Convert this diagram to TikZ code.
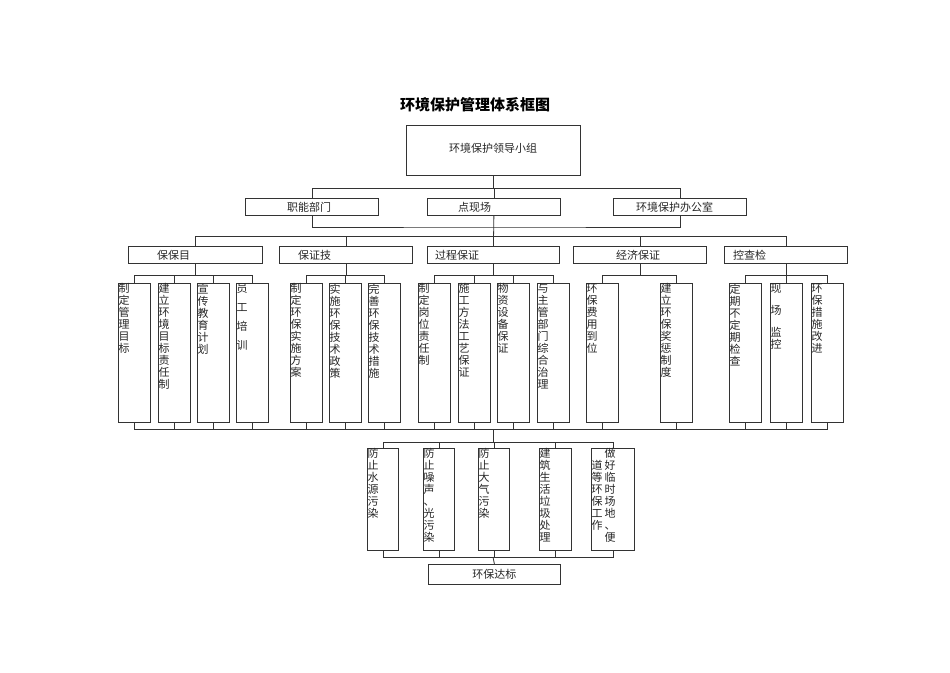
\documentclass[tikz,border=0pt]{standalone}
\usepackage{fontspec}
\setmainfont{Noto Sans CJK SC}
\usetikzlibrary{positioning}
\tikzset{
  figline/.style={draw=black!80, line width=0.8pt},
  topbox/.style={figline, minimum width=174pt, minimum height=50pt, inner sep=0pt,
    font=\fontsize{11}{13}\selectfont, text=black!85},
  hbox/.style={figline, minimum width=133pt, minimum height=17pt, inner sep=0pt,
    anchor=north west, font=\fontsize{11}{12}\selectfont, text=black!85},
  vbox/.style={figline, minimum width=32pt, minimum height=139pt, inner sep=0pt, anchor=north west},
  figlbl/.style={font=\fontsize{11}{12}\selectfont, text=black!85, inner sep=0pt, anchor=west},
  vtxt/.style={font=\fontsize{11}{12}\selectfont, text=black!85, inner sep=0.5pt,
    anchor=north west, align=left},
}
\begin{document}
\begin{tikzpicture}[x=1pt,y=-1pt]
  \useasboundingbox (0,0) rectangle (950,672);
  % Titel und Leitung
  \node[font=\fontsize{15}{18}\selectfont\bfseries] (titel) at (475,105) {环境保护管理体系框图};
  \node[topbox] (leit) at (493,150) {\raisebox{4pt}{环境保护领导小组}};
  % zweite Ebene
  \foreach \nm/\xl/\dx/\txt in {zn/245/42/职能部门, xc/427/31/点现场, bgs/613/23/环境保护办公室} {
    \node[hbox] (\nm) at (\xl,198) {};
    \node[figlbl, xshift=\dx pt] (\nm-t) at (\nm.west) {\txt};
  }
  \foreach \nm in {zn,xc,bgs}
    \draw[figline] (leit.south) -- ++(0,13) -| (\nm.north);
  % dritte Ebene
  \foreach \nm/\xl/\w/\dx/\txt in {g1/128/134/29/保保目, g2/279/133/19/保证技, g3/427/132/8/过程保证,
      g4/573/133/43/经济保证, g5/724/123/9/控查检} {
    \node[hbox, minimum width=\w pt] (\nm) at (\xl,246) {};
    \node[figlbl, xshift=\dx pt] (\nm-t) at (\nm.west) {\txt};
  }
  \coordinate (bus2) at (493,227);
  \coordinate (bus3) at (493,236);
  \draw[figline] (zn.south) |- (bus2) -| (bgs.south);
  \draw[figline] (xc.south) -- (g3.north);
  \foreach \nm in {g1,g2,g4,g5}
    \draw[figline] (bus3) -| (\nm.north);
  % Massnahmen
  \foreach \nm/\xl/\txt in {
      a1/118/{制\\定\\管\\理\\目\\标},
      a2/158/{建\\立\\环\\境\\目\\标\\责\\任\\制},
      a3/197/{宣\\传\\教\\育\\计\\划},
      a4/236/{员\\[7pt]工\\[7pt]培\\[7pt]训},
      b1/290/{制\\定\\环\\保\\实\\施\\方\\案},
      b2/329/{实\\施\\环\\保\\技\\术\\政\\策},
      b3/368/{完\\善\\环\\保\\技\\术\\措\\施},
      c1/418/{制\\定\\岗\\位\\责\\任\\制},
      c2/458/{施\\工\\方\\法\\工\\艺\\保\\证},
      c3/497/{物\\资\\设\\备\\保\\证},
      c4/537/{与\\主\\管\\部\\门\\综\\合\\治\\理},
      d1/586/{环\\保\\费\\用\\到\\位},
      d2/660/{建\\立\\环\\保\\奖\\惩\\制\\度},
      e1/729/{定\\期\\不\\定\\期\\检\\查},
      e2/770/{现\\[10pt]场\\[10pt]监\\控},
      e3/811/{环\\保\\措\\施\\改\\进}} {
    \node[vbox] (\nm) at (\xl,283) {};
    \node[vtxt] (\nm-t) at (\nm.north west) {\txt};
  }
  \foreach \g/\cs in {g1/{a1,a2,a3,a4}, g2/{b1,b2,b3}, g3/{c1,c2,c3,c4}, g4/{d1,d2}, g5/{e1,e2,e3}} {
    \foreach \c in \cs
      \draw[figline] (\g.south) -- ++(0,12) -| (\c.north);
  }
  \coordinate (bus4) at (493,429);
  \foreach \c in {a1,a2,a3,a4,b1,b2,b3,c1,c2,c3,c4,d1,d2,e1,e2,e3}
    \draw[figline] (\c.south) |- (bus4);
  % Ziele
  \foreach \nm/\xl/\w/\txt in {
      f1/367/31/{防\\止\\水\\源\\污\\染},
      f2/423/31/{防\\止\\噪\\声\\、\\光\\污\\染},
      f3/478/31/{防\\止\\大\\气\\污\\染},
      f4/539/32/{建\\筑\\生\\活\\垃\\圾\\处\\理},
      f5/591/43/{}} {
    \node[vbox, minimum width=\w pt, minimum height=102pt] (\nm) at (\xl,448) {};
    \node[vtxt] (\nm-t) at (\nm.north west) {\txt};
  }
  \node[vtxt] (f5-r) at (604,448) {做\\好\\临\\时\\场\\地\\、\\便};
  \node[vtxt] (f5-l) at (591,460) {道\\等\\环\\保\\工\\作};
  \foreach \c in {f1,f2,f3,f4,f5}
    \draw[figline] (bus4) -- ++(0,13) -| (\c.north);
  \coordinate (bus5) at (493,557);
  \foreach \c in {f1,f2,f3,f4,f5}
    \draw[figline] (\c.south) |- (bus5);
  \node[hbox, minimum width=132pt, minimum height=20pt] (db) at (428,564) {环保达标};
  \draw[figline] (bus5) -- (db.north);
\end{tikzpicture}
\end{document}
